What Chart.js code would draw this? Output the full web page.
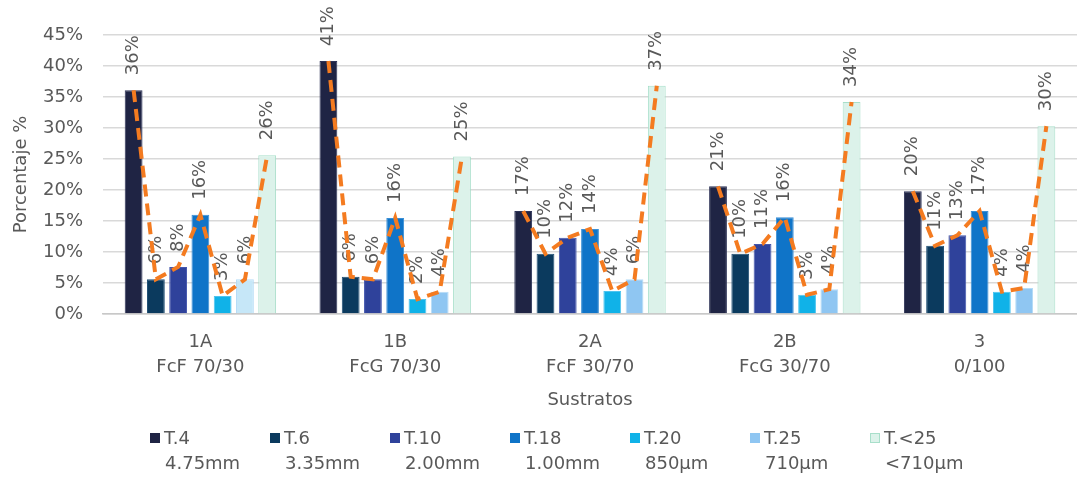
<!DOCTYPE html>
<html>
<head>
<meta charset="utf-8">
<script src="https://cdn.jsdelivr.net/npm/chart.js@4.4.0/dist/chart.umd.min.js"></script>
<style>
    body { margin: 0; background: #fff; }
    #wrap { position: relative; width: 1077px; height: 478px; overflow: hidden; }
    #legend { position: absolute; left: 0; top: 0; width: 1077px; height: 478px; pointer-events: none;
              font-family: "DejaVu Sans", sans-serif; font-size: 18px; color: #595959; }
    .legend-item { position: absolute; top: 426px; width: 118px; }
    .legend-box { position: absolute; left: 0; top: 7px; width: 10px; height: 10px; box-sizing: border-box; }
    .legend-line1 { position: absolute; left: 14px; top: 0; white-space: nowrap; line-height: 24px; }
    .legend-line2 { position: absolute; left: 15px; top: 25px; white-space: nowrap; line-height: 24px; }
</style>
</head>
<body>
<div id="wrap">
    <canvas id="chart" width="1077" height="478"></canvas>
    <div id="legend"></div>
</div>
<script>
// categories (two-line tick labels)
const categories = [
    ['1A', 'FcF 70/30'],
    ['1B', 'FcG 70/30'],
    ['2A', 'FcF 30/70'],
    ['2B', 'FcG 30/70'],
    ['3', '0/100']
];

// series values, in %
const t4    = [36.1, 40.8, 16.6, 20.6, 19.8];
const t6    = [5.6, 6.0, 9.7, 9.7, 11.0];
const t10   = [7.6, 5.6, 12.3, 11.3, 12.7];
const t18   = [16.0, 15.5, 13.7, 15.6, 16.6];
const t20   = [2.9, 2.4, 3.7, 3.1, 3.6];
const t25   = [5.6, 3.6, 5.6, 4.0, 4.2];
const tLt25 = [25.6, 25.4, 36.8, 34.2, 30.3];

const seriesNames = ['T.4', 'T.6', 'T.10', 'T.18', 'T.20', 'T.25', 'T.<25'];
const seriesSizes = ['4.75mm', '3.35mm', '2.00mm', '1.00mm', '850µm', '710µm', '<710µm'];

// y axis ticks
const yTicks = [0, 5, 10, 15, 20, 25, 30, 35, 40, 45];

const TEXT = '#595959';
const FONT = '"DejaVu Sans", sans-serif';

const fills = ['#1f2444', '#0b3a5e', '#2f429b', '#0f74c8', '#10b2e8',
               ['#c6e7f8', '#8fc6f2', '#8fc6f2', '#8fc6f2', '#8fc6f2'], '#dcf2ea'];
const borders = ['#2d3357', '#1d4d73', '#4356ad', '#3a8fd6', '#4cc4ef', '#b5dcf7', '#a8dfca'];
const legendFills = ['#1f2444', '#0b3a5e', '#2f429b', '#0f74c8', '#10b2e8', '#8fc6f2', '#dcf2ea'];

const values = [t4, t6, t10, t18, t20, t25, tLt25];

// rotated percentage labels above every bar
const barLabels = {
    id: 'barLabels',
    afterDatasetsDraw(chart) {
        const ctx = chart.ctx;
        ctx.save();
        ctx.font = '18px ' + FONT;
        ctx.fillStyle = TEXT;
        ctx.textAlign = 'left';
        ctx.textBaseline = 'middle';
        chart.data.datasets.forEach((ds, di) => {
            chart.getDatasetMeta(di).data.forEach((bar, i) => {
                ctx.save();
                ctx.translate(bar.x, bar.y - 15);
                ctx.rotate(-Math.PI / 2);
                ctx.fillText(Math.round(ds.data[i]) + '%', 0, 0);
                ctx.restore();
            });
        });
        ctx.restore();
    }
};

// orange dashed profile joining the bar tops of each group
const profileLine = {
    id: 'profileLine',
    afterDatasetsDraw(chart) {
        const ctx = chart.ctx;
        ctx.save();
        ctx.strokeStyle = '#f47b20';
        ctx.lineWidth = 4;
        ctx.setLineDash([12, 7]);
        categories.forEach((c, i) => {
            ctx.beginPath();
            chart.data.datasets.forEach((ds, di) => {
                const bar = chart.getDatasetMeta(di).data[i];
                if (di === 0) ctx.moveTo(bar.x, bar.y);
                else ctx.lineTo(bar.x, bar.y);
            });
            ctx.stroke();
        });
        ctx.restore();
    }
};

const chart = new Chart(document.getElementById('chart').getContext('2d'), {
    type: 'bar',
    data: {
        labels: categories,
        datasets: seriesNames.map((name, i) => ({
            label: name,
            data: values[i],
            backgroundColor: fills[i],
            borderColor: borders[i],
            borderWidth: 1,
            categoryPercentage: 0.8,
            barPercentage: 0.8
        }))
    },
    options: {
        responsive: false,
        animation: false,
        layout: { padding: { top: 35, right: 0, left: 0, bottom: 0 } },
        plugins: {
            legend: { display: false },
            tooltip: { enabled: false }
        },
        scales: {
            x: {
                grid: { display: false },
                border: { display: true, color: '#c8c8c8', width: 1.5 },
                ticks: {
                    color: TEXT,
                    padding: 8,
                    font: { family: FONT, size: 18, lineHeight: 1.4 },
                    maxRotation: 0
                },
                title: {
                    display: true,
                    text: 'Sustratos',
                    color: TEXT,
                    font: { family: FONT, size: 18 },
                    padding: { top: 0, bottom: 67 }
                },
                afterFit(scale) { scale.height = 164; }
            },
            y: {
                min: 0,
                max: 45,
                afterBuildTicks(scale) { scale.ticks = yTicks.map(v => ({ value: v })); },
                grid: { color: '#d9d9d9', lineWidth: 1.5, drawTicks: false },
                border: { display: false },
                ticks: {
                    color: TEXT,
                    padding: 20,
                    font: { family: FONT, size: 18 },
                    callback: v => v + '%'
                },
                title: {
                    display: true,
                    text: 'Porcentaje %',
                    color: TEXT,
                    font: { family: FONT, size: 18 },
                    padding: { top: 11, bottom: 0 }
                },
                afterFit(scale) { scale.width = 103; }
            }
        }
    },
    plugins: [barLabels, profileLine]
});

// legend: box, name, and sieve size on a second line
const legend = document.getElementById('legend');
seriesNames.forEach((name, i) => {
    const item = document.createElement('div');
    item.className = 'legend-item';
    item.style.left = (150 + i * 120) + 'px';
    const box = document.createElement('div');
    box.className = 'legend-box';
    box.style.background = legendFills[i];
    if (i === 6) box.style.border = '1px solid ' + borders[i];
    const l1 = document.createElement('div');
    l1.className = 'legend-line1';
    l1.textContent = name;
    const l2 = document.createElement('div');
    l2.className = 'legend-line2';
    l2.textContent = seriesSizes[i];
    item.appendChild(box);
    item.appendChild(l1);
    item.appendChild(l2);
    legend.appendChild(item);
});
</script>
</body>
</html>
